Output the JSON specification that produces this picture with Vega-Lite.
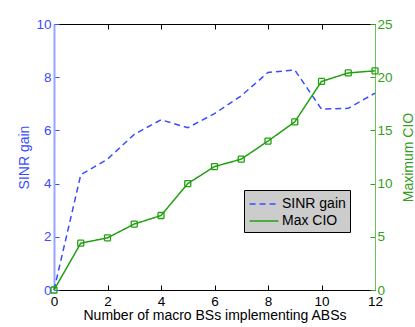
{
  "$schema": "https://vega.github.io/schema/vega-lite/v6.json",
  "autosize": {"type": "none"},
  "width": 321,
  "height": 266,
  "padding": {"left": 54, "top": 24, "right": 40, "bottom": 37},
  "background": "white",
  "config": {
    "view": {"stroke": null},
    "font": "Liberation Sans",
    "axis": {"grid": false, "labelFontSize": 13.5, "titleFontSize": 14, "titleFontWeight": "normal", "tickSize": -5, "labelPadding": 9}
  },
  "data": {
    "values": [
      {"n": 0, "series": "SINR gain", "value": 0},
      {"n": 1, "series": "SINR gain", "value": 4.33},
      {"n": 2, "series": "SINR gain", "value": 4.92},
      {"n": 3, "series": "SINR gain", "value": 5.85},
      {"n": 4, "series": "SINR gain", "value": 6.4},
      {"n": 5, "series": "SINR gain", "value": 6.1},
      {"n": 6, "series": "SINR gain", "value": 6.63},
      {"n": 7, "series": "SINR gain", "value": 7.3},
      {"n": 8, "series": "SINR gain", "value": 8.18},
      {"n": 9, "series": "SINR gain", "value": 8.27},
      {"n": 10, "series": "SINR gain", "value": 6.8},
      {"n": 11, "series": "SINR gain", "value": 6.83},
      {"n": 12, "series": "SINR gain", "value": 7.4},
      {"n": 0, "series": "Max CIO", "value": 0},
      {"n": 1, "series": "Max CIO", "value": 4.4},
      {"n": 2, "series": "Max CIO", "value": 4.9},
      {"n": 3, "series": "Max CIO", "value": 6.2},
      {"n": 4, "series": "Max CIO", "value": 7.0},
      {"n": 5, "series": "Max CIO", "value": 10.0},
      {"n": 6, "series": "Max CIO", "value": 11.6},
      {"n": 7, "series": "Max CIO", "value": 12.3},
      {"n": 8, "series": "Max CIO", "value": 14.0},
      {"n": 9, "series": "Max CIO", "value": 15.8},
      {"n": 10, "series": "Max CIO", "value": 19.6},
      {"n": 11, "series": "Max CIO", "value": 20.4},
      {"n": 12, "series": "Max CIO", "value": 20.6}
    ]
  },
  "layer": [
    {
      "transform": [{"filter": "datum.series === 'SINR gain'"}],
      "mark": {"type": "line", "strokeWidth": 1.5},
      "encoding": {
        "x": {"field": "n", "type": "quantitative", "scale": {"domain": [0, 12], "nice": false},
          "axis": {"orient": "bottom", "values": [0, 2, 4, 6, 8, 10, 12], "title": "Number of macro BSs implementing ABSs", "labelColor": "black", "domainColor": "black", "tickColor": "black", "titleColor": "black", "titlePadding": 1, "labelFlush": false}},
        "y": {"field": "value", "type": "quantitative", "scale": {"domain": [0, 10], "nice": false},
          "axis": {"orient": "left", "values": [0, 2, 4, 6, 8, 10], "title": "SINR gain", "labelColor": "#3a4cff", "titleColor": "#3a4cff", "domainColor": "#9aa5ff", "domainWidth": 2, "tickColor": "#3a4cff", "titlePadding": 4, "labelPadding": 8}},
        "color": {"field": "series", "type": "nominal", "scale": {"domain": ["SINR gain", "Max CIO"], "range": ["#3a4cff", "#22a010"]},
          "legend": {"orient": "none", "legendX": 190, "legendY": 166, "title": null, "fillColor": "#cccccc", "strokeColor": "black", "padding": 4, "symbolType": "M-1.6,0H1.6", "symbolSize": 324, "symbolOffset": 6, "symbolStrokeWidth": 1.3, "labelFontSize": 14, "labelColor": "black", "labelOffset": 8, "rowPadding": -1}},
        "strokeDash": {"field": "series", "type": "nominal", "scale": {"domain": ["SINR gain", "Max CIO"], "range": [[6, 4], [1, 0]]},
          "legend": {"orient": "none", "legendX": 190, "legendY": 166, "title": null, "fillColor": "#cccccc", "strokeColor": "black", "padding": 4, "symbolType": "M-1.6,0H1.6", "symbolSize": 324, "symbolOffset": 6, "symbolStrokeWidth": 1.3, "labelFontSize": 14, "labelColor": "black", "labelOffset": 8, "rowPadding": -1}}
      }
    },
    {
      "transform": [{"filter": "datum.series === 'Max CIO'"}],
      "mark": {"type": "line", "strokeWidth": 1.5, "point": {"shape": "square", "filled": false, "size": 36, "strokeWidth": 1.3}},
      "encoding": {
        "x": {"field": "n", "type": "quantitative", "scale": {"domain": [0, 12], "nice": false},
          "axis": {"orient": "top", "values": [0, 2, 4, 6, 8, 10, 12], "labels": false, "title": null, "domainColor": "black", "tickColor": "black"}},
        "y": {"field": "value", "type": "quantitative", "scale": {"domain": [0, 25], "nice": false},
          "axis": {"orient": "right", "values": [0, 5, 10, 15, 20, 25], "title": "Maximum CIO", "titleAngle": -90, "titleBaseline": "top", "labelColor": "#33a020", "titleColor": "#33a020", "domainColor": "#6abf5a", "tickColor": "#33a020", "labelPadding": 7, "titlePadding": 9}},
        "color": {"field": "series", "type": "nominal"},
        "strokeDash": {"field": "series", "type": "nominal"}
      }
    }
  ],
  "resolve": {"scale": {"y": "independent"}}
}
